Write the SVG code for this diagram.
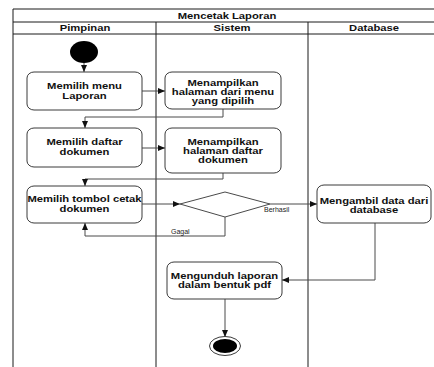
<svg xmlns="http://www.w3.org/2000/svg" width="434" height="367" viewBox="0 0 434 367">
<style>
  .pool{stroke:#1a1a1a;stroke-width:1;fill:none}
  .node rect{fill:#ffffff;stroke:#3a3a3a;stroke-width:1}
  .t{font-family:"Liberation Sans",Arial,sans-serif;font-size:9px;font-weight:bold;fill:#111;text-anchor:middle}
  .h{font-family:"Liberation Sans",Arial,sans-serif;font-size:9px;font-weight:bold;fill:#111;text-anchor:middle}
  .lbl{font-family:"Liberation Sans",Arial,sans-serif;font-size:7px;fill:#222}
  .c{fill:none;stroke:#4a4a4a;stroke-width:1}
  .ca{fill:none;stroke:#4a4a4a;stroke-width:1;marker-end:url(#arr)}
</style>
<defs>
  <marker id="arr" markerUnits="userSpaceOnUse" markerWidth="8" markerHeight="8" viewBox="0 0 8 8" refX="7" refY="4" orient="auto">
    <path d="M0,1 L7,4 L0,7 Z" fill="#111"/>
  </marker>
</defs>
<rect x="0" y="0" width="434" height="367" fill="#ffffff"/>
<g id="frame">
  <line class="pool" x1="13" y1="9" x2="434" y2="9"/>
  <line class="pool" x1="13" y1="22" x2="434" y2="22"/>
  <line class="pool" x1="13" y1="34" x2="434" y2="34"/>
  <line class="pool" x1="13" y1="9" x2="13" y2="367"/>
  <line class="pool" x1="156" y1="22" x2="156" y2="367"/>
  <line class="pool" x1="308" y1="22" x2="308" y2="367"/>
  <text class="h" transform="translate(227,0) scale(1.25 1)" x="0" y="19">Mencetak Laporan</text>
  <text class="h" transform="translate(85,0) scale(1.25 1)" x="0" y="31">Pimpinan</text>
  <text class="h" transform="translate(232,0) scale(1.25 1)" x="0" y="31">Sistem</text>
  <text class="h" transform="translate(374,0) scale(1.25 1)" x="0" y="31">Database</text>
</g>
<g id="connectors">
  <line class="ca" x1="84" y1="63" x2="84" y2="72"/>
  <line class="ca" x1="142" y1="91" x2="165" y2="91"/>
  <polyline class="ca" points="223,109 223,117 85,117 85,128"/>
  <line class="ca" x1="142" y1="148" x2="165" y2="148"/>
  <polyline class="ca" points="223,173 223,179 85,179 85,186"/>
  <line class="ca" x1="142" y1="204" x2="180" y2="204"/>
  <line class="ca" x1="270" y1="204" x2="317" y2="204"/>
  <polyline class="ca" points="225,217 225,236 85,236 85,223"/>
  <polyline class="ca" points="375,223 375,280 282,280"/>
  <line class="ca" x1="225" y1="299" x2="225" y2="337"/>
  <text class="lbl" x="264" y="211.5">Berhasil</text>
  <text class="lbl" x="171" y="234">Gagal</text>
</g>
<g id="start">
  <ellipse cx="84" cy="52" rx="14" ry="11" fill="#000"/>
</g>
<g id="n1" class="node">
  <rect x="27" y="72" width="115" height="38" rx="7" ry="6"/>
  <text class="t" transform="translate(84.5,0) scale(1.25 1)"><tspan x="0" y="89">Memilih menu</tspan><tspan x="0" y="99">Laporan</tspan></text>
</g>
<g id="n2" class="node">
  <rect x="165" y="72" width="116" height="37" rx="7" ry="6"/>
  <text class="t" transform="translate(223,0) scale(1.25 1)"><tspan x="0" y="86">Menampilkan</tspan><tspan x="0" y="95">halaman dari menu</tspan><tspan x="0" y="104">yang dipilih</tspan></text>
</g>
<g id="n3" class="node">
  <rect x="27" y="128" width="115" height="39" rx="7" ry="6"/>
  <text class="t" transform="translate(84.5,0) scale(1.25 1)"><tspan x="0" y="145">Memilih daftar</tspan><tspan x="0" y="155">dokumen</tspan></text>
</g>
<g id="n4" class="node">
  <rect x="165" y="128" width="116" height="45" rx="7" ry="6"/>
  <text class="t" transform="translate(223,0) scale(1.25 1)"><tspan x="0" y="145">Menampilkan</tspan><tspan x="0" y="154">halaman daftar</tspan><tspan x="0" y="163">dokumen</tspan></text>
</g>
<g id="n5" class="node">
  <rect x="27" y="186" width="115" height="37" rx="7" ry="6"/>
  <text class="t" transform="translate(84.5,0) scale(1.25 1)"><tspan x="0" y="202">Memilih tombol cetak</tspan><tspan x="0" y="212">dokumen</tspan></text>
</g>
<g id="decision">
  <polygon points="180,204 225,192 270,204 225,217" fill="#ffffff" stroke="#4a4a4a" stroke-width="1"/>
</g>
<g id="n6" class="node">
  <rect x="317" y="185" width="114" height="38" rx="7" ry="6"/>
  <text class="t" transform="translate(374,0) scale(1.25 1)"><tspan x="0" y="204">Mengambil data dari</tspan><tspan x="0" y="213">database</tspan></text>
</g>
<g id="n7" class="node">
  <rect x="167" y="262" width="115" height="37" rx="7" ry="6"/>
  <text class="t" transform="translate(224.5,0) scale(1.25 1)"><tspan x="0" y="279">Mengunduh laporan</tspan><tspan x="0" y="288">dalam bentuk pdf</tspan></text>
</g>
<g id="end">
  <ellipse cx="225" cy="346" rx="15.5" ry="9.5" fill="#ffffff" stroke="#3a3a3a" stroke-width="1"/>
  <ellipse cx="225" cy="346" rx="12" ry="7" fill="#000"/>
</g>
</svg>
